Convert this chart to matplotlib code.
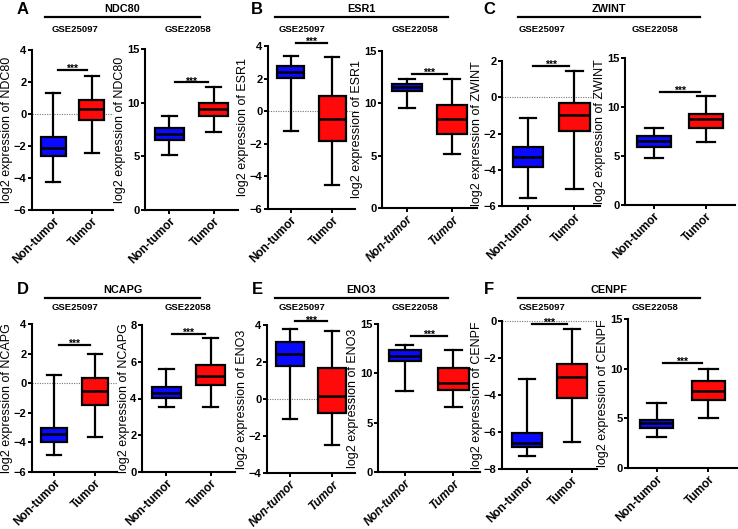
"""Box plots of hub gene expression, tumor vs non-tumor, in two GEO datasets."""

import matplotlib
matplotlib.use("Agg")
import matplotlib.pyplot as plt
from matplotlib.lines import Line2D

plt.rcParams["font.family"] = ["Liberation Sans", "DejaVu Sans"]
plt.rcParams["font.weight"] = "bold"

W, H = 738, 529

categories = ["Non-tumor", "Tumor"]
genes = ["NDC80", "ESR1", "ZWINT", "NCAPG", "ENO3", "CENPF"]
datasets = ["GSE25097", "GSE22058"]
panel_letters = ["A", "B", "C", "D", "E", "F"]

# five-number summaries per group: [low whisker, Q1, median, Q3, high whisker]
ndc80_gse25097 = [[-4.25, -2.65, -2.1, -1.45, 1.3], [-2.45, -0.4, 0.3, 0.9, 2.35]]
ndc80_gse22058 = [[5.15, 6.5, 7.05, 7.6, 8.8], [7.3, 8.8, 9.4, 9.95, 11.5]]
esr1_gse25097 = [[-1.2, 2.05, 2.4, 2.8, 3.4], [-4.55, -1.85, -0.45, 0.95, 3.3]]
esr1_gse22058 = [[9.55, 11.15, 11.55, 11.85, 12.35], [5.2, 7.05, 8.5, 9.85, 12.3]]
zwint_gse25097 = [[-5.55, -3.85, -3.3, -2.75, -1.15], [-5.05, -1.85, -1.0, -0.3, 1.45]]
zwint_gse22058 = [[4.75, 5.95, 6.5, 7.05, 7.85], [6.4, 7.85, 8.8, 9.3, 11.1]]
ncapg_gse25097 = [[-4.85, -4.0, -3.45, -3.05, 0.55], [-3.65, -1.45, -0.5, 0.35, 2.0]]
ncapg_gse22058 = [[3.55, 4.05, 4.3, 4.65, 5.6], [3.55, 4.75, 5.2, 5.8, 7.3]]
eno3_gse25097 = [[-1.1, 1.8, 2.45, 3.1, 3.8], [-2.5, -0.75, 0.15, 1.65, 3.7]]
eno3_gse22058 = [[8.25, 11.2, 11.8, 12.35, 12.9], [6.55, 8.3, 9.05, 10.5, 12.35]]
cenpf_gse25097 = [[-7.3, -6.8, -6.6, -6.05, -3.15], [-6.55, -4.15, -3.05, -2.3, -0.45]]
cenpf_gse22058 = [[3.1, 4.05, 4.5, 4.8, 6.55], [5.0, 6.8, 7.75, 8.75, 9.95]]

summaries = [
    ndc80_gse25097, ndc80_gse22058, esr1_gse25097, esr1_gse22058,
    zwint_gse25097, zwint_gse22058, ncapg_gse25097, ncapg_gse22058,
    eno3_gse25097, eno3_gse22058, cenpf_gse25097, cenpf_gse22058,
]

# height of the "***" bracket in each subplot
sig_levels = [2.75, 11.9, 4.2, 12.85, 1.72, 11.55, 2.6, 7.5, 4.2, 13.8, -0.15, 10.6]

# y ranges and tick steps
y_ranges = [(-6, 4), (0, 15), (-6, 4), (0, 15), (-6, 2), (0, 15),
            (-6, 4), (0, 8), (-4, 4), (0, 15), (-8, 0), (0, 15)]
y_steps = [2, 5, 2, 5, 2, 5, 2, 2, 2, 5, 2, 5]

italic_xticks = [False, False, False, True, False, False,
                 False, False, True, True, False, False]

# axes boxes in pixels: left, right, top, bottom
boxes_px = [
    (32, 113, 50, 210), (145, 238, 49, 210),
    (268, 355, 46, 209), (382, 477, 51, 208),
    (502, 600, 61, 206), (625, 735, 58, 205),
    (32, 117, 324, 472), (142, 235, 325, 472),
    (267, 355, 325, 473), (378, 480, 324, 472),
    (502, 597, 321, 469), (628, 737, 319, 468),
]

colors = ["#0a0aff", "#ff0a0a"]

fig = plt.figure(figsize=(W / 100, H / 100), dpi=100)

for i, summ in enumerate(summaries):
    l, r, t, b = boxes_px[i]
    ax = fig.add_axes([l / W, 1 - b / H, (r - l) / W, (b - t) / H])
    gene = genes[i // 2]

    stats = []
    for cat, s in zip(categories, summ):
        stats.append(dict(label=cat, whislo=s[0], q1=s[1], med=s[2], q3=s[3],
                          whishi=s[4], fliers=[]))
    bp = ax.bxp(stats, positions=[1, 2], widths=0.65, capwidths=0.35,
                patch_artist=True, showfliers=False,
                boxprops=dict(linewidth=1.6, edgecolor="black"),
                medianprops=dict(color="black", linewidth=1.8),
                whiskerprops=dict(linewidth=1.6, color="black"),
                capprops=dict(linewidth=1.6, color="black"))
    for patch, c in zip(bp["boxes"], colors):
        patch.set_facecolor(c)

    lo, hi = y_ranges[i]
    ax.set_ylim(lo, hi)
    ax.set_yticks(range(lo, hi + 1, y_steps[i]))
    ax.set_xlim(0.45, 2.55)
    if lo < 0:
        ax.axhline(0, color="#777777", lw=0.8, ls=(0, (1, 1.2)), zorder=0, clip_on=False)

    sig = sig_levels[i]
    ax.plot([1.12, 1.88], [sig, sig], color="black", lw=1.6, clip_on=False)
    ax.annotate("***", (1.5, sig), xytext=(0, -1.5), textcoords="offset points",
                ha="center", va="baseline", fontsize=7.5, annotation_clip=False)

    for side in ("top", "right"):
        ax.spines[side].set_visible(False)
    for side in ("left", "bottom"):
        ax.spines[side].set_linewidth(1.5)
    ax.tick_params(direction="out", length=3, width=1.4, labelsize=8, pad=1)
    ax.set_xticks([1, 2])
    ax.set_xticklabels(categories, rotation=45, ha="right", rotation_mode="anchor",
                       fontsize=8.5, style="italic" if italic_xticks[i] else "normal")
    ax.set_ylabel(f"log2 expression of {gene}", fontsize=9, labelpad=0.5)

# panel headers: letter, gene name, bracket line and dataset names
header_rows = [(9, 17, 29), (290, 298, 307)]
bracket_x = [(45, 200), (275, 448), (518, 700)]
letter_x = [23, 257, 489]
gse_x = [(75, 188), (302, 415), (542, 655)]
for g, gene in enumerate(genes):
    row, col = divmod(g, 3)
    y_title, y_line, y_gse = header_rows[row]
    x0, x1 = bracket_x[col]
    fig.text(letter_x[col] / W, 1 - y_title / H, panel_letters[g],
             fontsize=12, ha="center", va="center")
    fig.text((x0 + x1) / 2 / W, 1 - y_title / H, gene, fontsize=7.8,
             ha="center", va="center")
    fig.add_artist(Line2D([x0 / W, x1 / W], [1 - y_line / H] * 2,
                          color="black", lw=1.6))
    for d, ds in enumerate(datasets):
        fig.text(gse_x[col][d] / W, 1 - y_gse / H, ds, fontsize=6.8,
                 ha="center", va="center")

fig.savefig("out.png", dpi=100)
